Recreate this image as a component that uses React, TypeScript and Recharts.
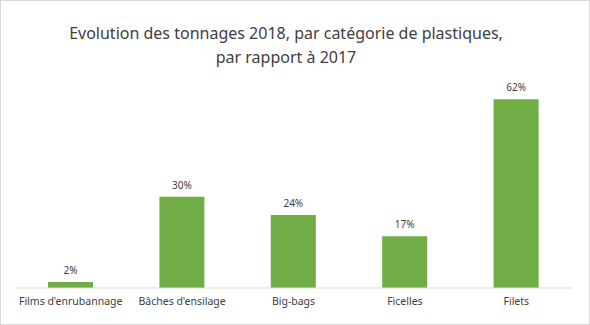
import { BarChart, Bar, XAxis, YAxis, LabelList } from "recharts";

const categories = ["Films d'enrubannage", "Bâches d'ensilage", "Big-bags", "Ficelles", "Filets"];
const evolution = [2, 30, 24, 17, 62];
const titleLines = ["Evolution des tonnages 2018, par catégorie de plastiques,", "par rapport à 2017"];

const data = categories.map((name, i) => ({ name, value: evolution[i] }));

const font = "'Noto Sans', 'Open Sans', sans-serif";

export default function App() {
  return (
    <div
      style={{
        position: "relative",
        width: 588,
        height: 323,
        border: "1px solid #d9d9d9",
        background: "#fff",
        fontFamily: font,
      }}
    >
      <style>{`body{margin:0}`}</style>
      <div
        style={{
          position: "absolute",
          top: 20,
          left: 0,
          width: 570,
          textAlign: "center",
          fontSize: 16,
          lineHeight: "24px",
          color: "#404040",
        }}
      >
        {titleLines.map((l) => (
          <div key={l}>{l}</div>
        ))}
      </div>
      <div style={{ position: "absolute", top: -1, left: -1 }}>
        <BarChart width={590} height={325} data={data} margin={{ top: 75, right: 18, bottom: 0, left: 15 }}>
          <XAxis
            dataKey="name"
            height={37}
            tickLine={false}
            axisLine={{ stroke: "#d9d9d9" }}
            tick={{ fill: "#404040", fontSize: 10.5, fontFamily: font, dy: 2 }}
            interval={0}
          />
          <YAxis hide domain={[0, 70]} />
          <Bar dataKey="value" fill="#70ad47" barSize={45} isAnimationActive={false}>
            <LabelList
              dataKey="value"
              position="top"
              offset={8}
              formatter={(v: number) => `${v}%`}
              style={{ fill: "#404040", fontSize: 10, fontFamily: font }}
            />
          </Bar>
        </BarChart>
      </div>
    </div>
  );
}
